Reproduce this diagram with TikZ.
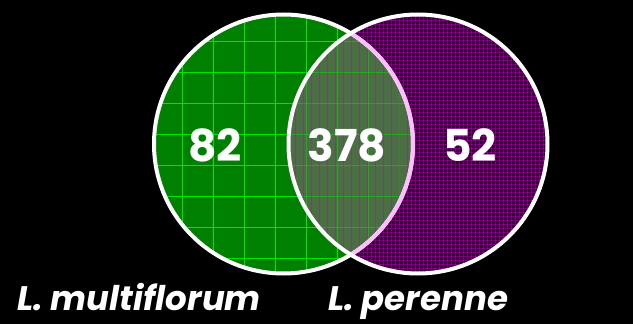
\documentclass[tikz,border=0pt]{standalone}
\usepackage{fontspec}
\setmainfont{Poppins}
\definecolor{leafgreen}{RGB}{0,128,0}
\definecolor{gridgreen}{RGB}{0,230,0}
\definecolor{plum}{RGB}{50,0,50}
\definecolor{gridpink}{RGB}{180,0,180}
\definecolor{overlapgray}{RGB}{72,112,64}
\definecolor{rimpink}{RGB}{255,190,255}

\begin{document}
\begin{tikzpicture}[x=1pt,y=-1pt,
  count/.style={text=white, inner sep=0pt,
    font=\bfseries\fontsize{44}{44}\selectfont},
  species/.style={text=white, inner sep=0pt, anchor=base,
    font=\bfseries\itshape\fontsize{34}{34}\selectfont},
  rim/.style={draw=white, line width=4pt}
]
\fill[black] (0,0) rectangle (633,324);
\useasboundingbox (0,0) rectangle (633,324);
\coordinate (lc) at (283.5,144);
\coordinate (rc) at (418,144);
\def\rad{129.5}

% L. multiflorum set
\begin{scope}
  \clip (lc) circle (\rad);
  \fill[leafgreen] (lc) circle (\rad);
  \foreach \i in {0,...,9} {
    \draw[gridgreen, line width=0.8pt] (151+31*\i,0) -- (151+31*\i,324);
    \draw[gridgreen, line width=0.8pt] (140,10.5+31*\i) -- (440,10.5+31*\i);
  }
\end{scope}

% L. perenne set
\begin{scope}
  \clip (rc) circle (\rad);
  \fill[plum] (rc) circle (\rad);
  \foreach \x in {287,291,...,551}
    \draw[gridpink, line width=1pt, opacity=0.5] (\x,10) -- (\x,280);
  \foreach \y in {12,16,...,276}
    \draw[gridpink, line width=1pt, opacity=0.5] (285,\y) -- (552,\y);
\end{scope}

% shared part
\begin{scope}
  \clip (lc) circle (\rad);
  \clip (rc) circle (\rad);
  \fill[overlapgray] (rc) circle (\rad);
  \foreach \i in {0,...,9} {
    \draw[gridgreen, line width=0.8pt, opacity=0.5] (151+31*\i,0) -- (151+31*\i,324);
    \draw[gridgreen, line width=0.8pt, opacity=0.5] (140,10.5+31*\i) -- (440,10.5+31*\i);
  }
  \foreach \x in {287,295,...,551}
    \draw[gridpink, line width=0.6pt, opacity=0.35] (\x,10) -- (\x,280);
\end{scope}

% rims
\draw[rim] (lc) circle (\rad);
\begin{scope}
  \clip (rc) circle (\rad);
  \draw[rim, draw=rimpink] (lc) circle (\rad);
\end{scope}
\draw[rim] (rc) circle (\rad);

\node[count] (only82) at (215,145) {82};
\node[count] (both378) at (347,145) {378};
\node[count] (only52) at (470,145) {52};

\node[species] (multi) at (139,310) {L. multiflorum};
\node[species] (peren) at (418,310) {L. perenne};
\end{tikzpicture}
\end{document}
